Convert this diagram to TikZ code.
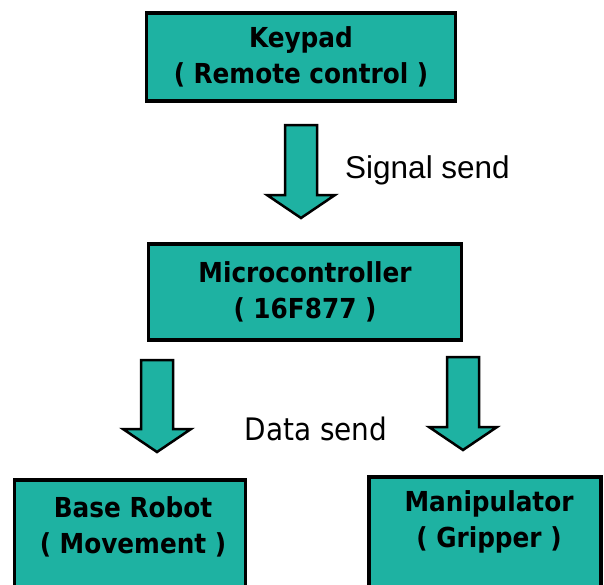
\documentclass[tikz,border=0pt]{standalone}
\usepackage{fontspec}
\usepackage{xcolor}
\usetikzlibrary{calc}

\newfontfamily\boxfont{DejaVu Sans Condensed}
\newfontfamily\signalfont{Liberation Sans}
\definecolor{boxteal}{RGB}{30,178,162}

% block arrow: #1 = top of shaft, #2 = tip
\newcommand{\bigarrow}[2]{%
  \draw[arrowbody] ($(#1)+(-16,0)$) -- ($(#1)+(16,0)$) -- ($(#2)+(16,-23)$)
    -- ($(#2)+(34,-23)$) -- (#2) -- ($(#2)+(-34,-23)$) -- ($(#2)+(-16,-23)$) -- cycle;}

\begin{document}
\begin{tikzpicture}[x=1pt, y=-1pt,
    box/.style={draw=black, line width=3.5pt, fill=boxteal, align=center, inner sep=0pt},
    boxtext/.style={align=center, inner sep=0pt, font={\boxfont\bfseries\fontsize{27.5}{36}\selectfont}},
    note/.style={inner sep=0pt},
    arrowbody/.style={draw=black, line width=2.5pt, fill=boxteal, line join=miter}]
    \useasboundingbox (0,0) rectangle (604,584);
    \clip (0,0) rectangle (604,584);

    \node[box, boxtext, minimum width=309, minimum height=88] (keypad) at (301,57) {Keypad\\( Remote control )};
    \node[box, boxtext, minimum width=313, minimum height=96] (micro) at (305,292) {Microcontroller\\( 16F877 )};

    \node[box, minimum width=231, minimum height=130, anchor=north] (base) at (130,478) {};
    \node[boxtext] (basetext) at (133,527) {Base Robot\\( Movement )};
    \node[box, minimum width=232, minimum height=130, anchor=north] (manip) at (485,475) {};
    \node[boxtext] (maniptext) at (489,522) {Manipulator\\( Gripper )};

    \coordinate (sigtop) at (301,125);
    \coordinate (sigtip) at (301,218);
    \coordinate (lefttop) at (157,360);
    \coordinate (lefttip) at (157,452);
    \coordinate (righttop) at (463,357);
    \coordinate (righttip) at (463,450);
    \bigarrow{sigtop}{sigtip}
    \bigarrow{lefttop}{lefttip}
    \bigarrow{righttop}{righttip}

    \node[note, anchor=base west, font={\signalfont\fontsize{31.5}{36}\selectfont}] (signal) at (345,178) {Signal send};
    \node[note, anchor=base, font={\boxfont\fontsize{31}{36}\selectfont}] (data) at (316,440) {Data send};
\end{tikzpicture}
\end{document}
